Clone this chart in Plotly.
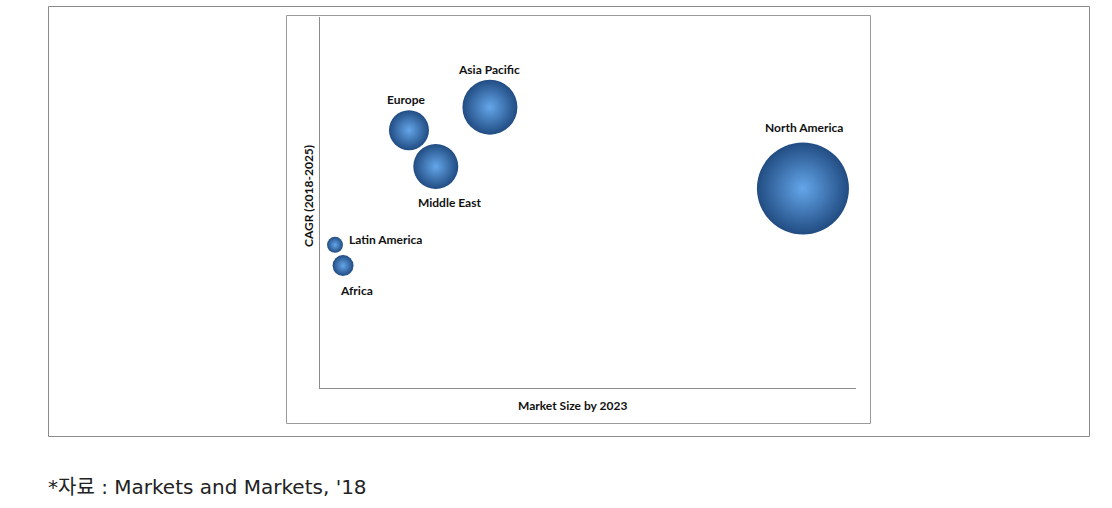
import plotly.graph_objects as go

regions = ["North America", "Asia Pacific", "Europe", "Middle East", "Latin America", "Africa"]
market_size = [100, 35.7, 18.9, 23.9, 3.0, 5.2]      # relative market size by 2023
cagr = [53.8, 75.7, 69.5, 59.7, 38.6, 33.0]           # relative CAGR position
share_x = [90.1, 31.7, 16.6, 21.6, 2.8, 4.3]          # horizontal position (market size axis)

W, H = 1112, 508
L, R, T, B = 320, 856, 17, 388

def px(x):
    return x / W

def py(y):
    return 1 - y / H

label_shift = {
    "North America": (1, 61, "center"),
    "Asia Pacific": (-1, 38, "center"),
    "Europe": (-3, 31, "center"),
    "Middle East": (14, -36, "center"),
    "Latin America": (12, 5, "left"),
    "Africa": (13, -25, "center"),
}

fig = go.Figure()
fig.add_trace(go.Scatter(
    x=share_x, y=cagr, mode="markers",
    marker=dict(
        size=market_size, sizemode="area",
        sizeref=2 * max(market_size) / (92 ** 2),
        color="#214c82",
        gradient=dict(type="radial", color="#64a6ea"),
        opacity=1,
        line=dict(width=0),
    ),
    hovertext=regions, hoverinfo="text",
))

annotations = []
for name, x, y in zip(regions, share_x, cagr):
    dx, dy, anchor = label_shift[name]
    annotations.append(dict(
        x=x, y=y, xref="x", yref="y", text=f"<b>{name}</b>", showarrow=False,
        xshift=dx, yshift=dy, xanchor=anchor, yanchor="middle",
        font=dict(family="Lato", size=12, color="#111111"),
    ))

annotations.append(dict(
    x=px(572), y=py(405), xref="paper", yref="paper", text="<b>Market Size by 2023</b>",
    showarrow=False, xanchor="center", yanchor="middle",
    font=dict(family="Lato", size=12, color="#111111"),
))
annotations.append(dict(
    x=px(308), y=py(196), xref="paper", yref="paper", text="<b>CAGR (2018-2025)</b>",
    showarrow=False, xanchor="center", yanchor="middle", textangle=-90,
    font=dict(family="Lato", size=12, color="#111111"),
))
annotations.append(dict(
    x=px(46), y=py(487), xref="paper", yref="paper",
    text="*자료 : Markets and Markets, '18",
    showarrow=False, xanchor="left", yanchor="middle",
    font=dict(family="DejaVu Sans, Noto Sans CJK KR", size=20, color="#222222"),
))

shapes = [
    dict(type="rect", xref="paper", yref="paper", x0=px(48.5), x1=px(1089.5), y0=py(6.5), y1=py(436.5),
         line=dict(color="#8a8a8a", width=1)),
    dict(type="rect", xref="paper", yref="paper", x0=px(286.5), x1=px(870.5), y0=py(15.5), y1=py(423.5),
         line=dict(color="#9a9a9a", width=1)),
]

fig.update_layout(
    width=W, height=H,
    margin=dict(l=0, r=0, t=0, b=0),
    paper_bgcolor="white", plot_bgcolor="white",
    showlegend=False,
    annotations=annotations, shapes=shapes,
    xaxis=dict(domain=[L / W, R / W], range=[0, 100], showgrid=False, zeroline=False,
               showticklabels=False, ticks="", showline=True, linecolor="#8c8c8c", linewidth=1),
    yaxis=dict(domain=[1 - B / H, 1 - T / H], range=[0, 100], showgrid=False, zeroline=False,
               showticklabels=False, ticks="", showline=True, linecolor="#8c8c8c", linewidth=1),
)

fig.write_html("out.html")
